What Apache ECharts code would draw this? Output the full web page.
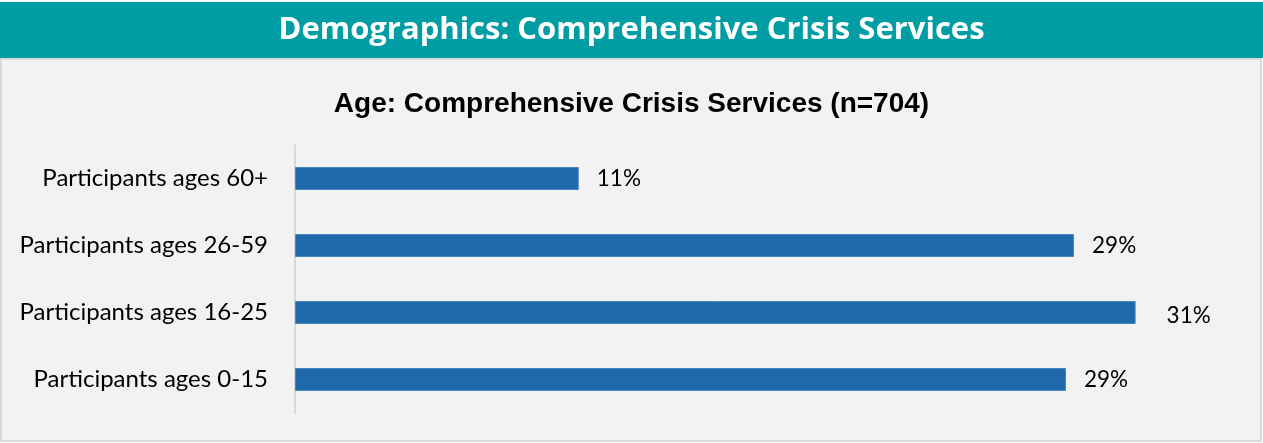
<!DOCTYPE html>
<html>
<head>
<meta charset="utf-8">
<script src="https://cdn.jsdelivr.net/npm/echarts@6/dist/echarts.min.js"></script>
<style>
html,body{margin:0;padding:0;background:#ffffff;}
#chart{width:1263px;height:443px;}
</style>
</head>
<body>
<div id="chart"></div>
<script>
const headerTitle = 'Demographics: Comprehensive Crisis Services';
const chartTitle = 'Age: Comprehensive Crisis Services (n=704)';
const categories = ['Participants ages 0-15', 'Participants ages 16-25', 'Participants ages 26-59', 'Participants ages 60+'];
const values = [28.8, 31.4, 29.1, 10.6];

// the longest bar's label sits a little further out in the original
const seriesData = values.map((v, i) => i === 1
  ? {value: v, label: {distance: 31, offset: [0, 3]}}
  : {value: v});

const chart = echarts.init(document.getElementById('chart'), null, {renderer: 'canvas'});
chart.setOption({
  animation: false,
  backgroundColor: '#ffffff',
  graphic: [
    {type: 'rect', z: -10, shape: {x: 1, y: 59, width: 1260, height: 382}, style: {fill: '#f2f2f2', stroke: '#d9d9d9', lineWidth: 2}},
    {type: 'rect', z: -9, shape: {x: 0, y: 2, width: 1263, height: 56}, style: {fill: '#009ea4'}}
  ],
  title: [
    {text: headerTitle, left: 'center', top: 10, textStyle: {color: '#ffffff', fontFamily: 'Open Sans', fontWeight: 'bold', fontSize: 31}},
    {text: chartTitle, left: 'center', top: 85, textStyle: {color: '#000000', fontFamily: 'Liberation Sans', fontWeight: 'bold', fontSize: 28}}
  ],
  grid: {left: 295, top: 145, width: 937, height: 268, containLabel: false},
  xAxis: {
    type: 'value', min: 0, max: 35, show: false,
    splitLine: {show: false}
  },
  yAxis: {
    type: 'category', data: categories,
    axisLine: {show: true, lineStyle: {color: '#d9d9d9', width: 2}},
    axisTick: {show: false},
    axisLabel: {color: '#000000', fontFamily: 'Lato', fontSize: 24, margin: 27}
  },
  series: [{
    type: 'bar', data: seriesData, barWidth: 23,
    itemStyle: {color: '#1f69aa', borderColor: '#4a86c0', borderWidth: 1},
    label: {show: true, position: 'right', distance: 18, color: '#000000', fontFamily: 'Lato', fontSize: 22.5,
      formatter: p => Math.round(p.value) + '%'}
  }]
});
</script>
</body>
</html>
